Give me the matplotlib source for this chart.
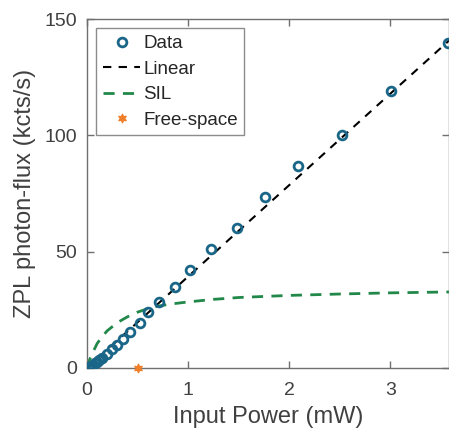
import matplotlib
matplotlib.use("Agg")
import matplotlib.pyplot as plt
import numpy as np

plt.rcParams['font.family'] = ['Liberation Sans', 'DejaVu Sans']

# Data
data_x = [0.02, 0.04, 0.06, 0.08, 0.10, 0.12, 0.15, 0.20, 0.25, 0.30, 0.36, 0.43,
          0.52, 0.60, 0.71, 0.87, 1.02, 1.23, 1.48, 1.76, 2.09, 2.52, 3.01, 3.57]
data_y = [0.5, 1.0, 1.5, 2.0, 2.5, 3.5, 4.5, 6.0, 8.2, 9.9, 12.5, 15.5,
          19.4, 24.0, 28.4, 34.8, 42.1, 51.1, 60.2, 73.5, 86.8, 100.0, 119.0, 139.7]

linear_x = [0.0, 3.6]
linear_y = [0.0, 141.5]

sil_x = [0.0, 0.02, 0.05, 0.10, 0.15, 0.20, 0.30, 0.40, 0.50, 0.60, 0.70, 0.85,
         1.00, 1.25, 1.50, 2.00, 2.50, 3.00, 3.60]
sil_y = [0.0, 3.0, 6.0, 10.5, 13.5, 16.0, 19.5, 22.0, 24.0, 25.5, 26.6, 27.6,
         28.4, 29.5, 30.3, 31.2, 31.8, 32.3, 32.7]

free_x = [0.5]
free_y = [0.0]

xticks = [0, 1, 2, 3]
yticks = [0, 50, 100, 150]

txt = '#404040'
fig = plt.figure(figsize=(4.49, 4.34), dpi=100)
ax = fig.add_axes([87/449, 66/434, 1 - 87/449, (368-19)/434])

ax.plot(linear_x, linear_y, color='black', lw=1.5, ls=(0, (4, 3.5)), label='Linear', zorder=2)
ax.plot(sil_x, sil_y, color='#22884a', lw=2, ls=(0, (4, 3)), label='SIL', zorder=2)
ax.plot(data_x, data_y, ls='none', marker='o', ms=6.3, mfc='none', mec='#1a6688', mew=2,
        label='Data', zorder=3)
ax.plot(free_x, free_y, ls='none', marker=(6, 1, 0), ms=6.5, mfc='#f07f2a', mec='#f07f2a',
        mew=0.8, label='Free-space', zorder=4, clip_on=False)

ax.set_xlim(0, 3.58)
ax.set_ylim(0, 150)
ax.set_xticks(xticks)
ax.set_yticks(yticks)
ax.tick_params(direction='in', top=True, right=True, length=5, width=1, colors='#707070',
               labelcolor=txt, labelsize=14)
ax.tick_params(axis='x', pad=10)
ax.tick_params(axis='y', pad=7)
for s in ax.spines.values():
    s.set_color('#707070')
    s.set_linewidth(1)
ax.set_xlabel('Input Power (mW)', fontsize=17, color=txt, labelpad=5)
ax.set_ylabel('ZPL photon-flux (kcts/s)', fontsize=17, color=txt, labelpad=6)

h, l = ax.get_legend_handles_labels()
order = [2, 0, 1, 3]
leg = ax.legend([h[i] for i in order], [l[i] for i in order], loc='upper left',
                fontsize=13.5, frameon=True, fancybox=False, edgecolor='#707070',
                handlelength=2.0, handletextpad=0.15, borderpad=0.35, labelspacing=0.45,
                borderaxespad=0.5, bbox_to_anchor=(0.0, 1.0))
leg.get_frame().set_linewidth(1)
for t in leg.get_texts():
    t.set_color('#262626')

fig.savefig('out.png', dpi=100)
